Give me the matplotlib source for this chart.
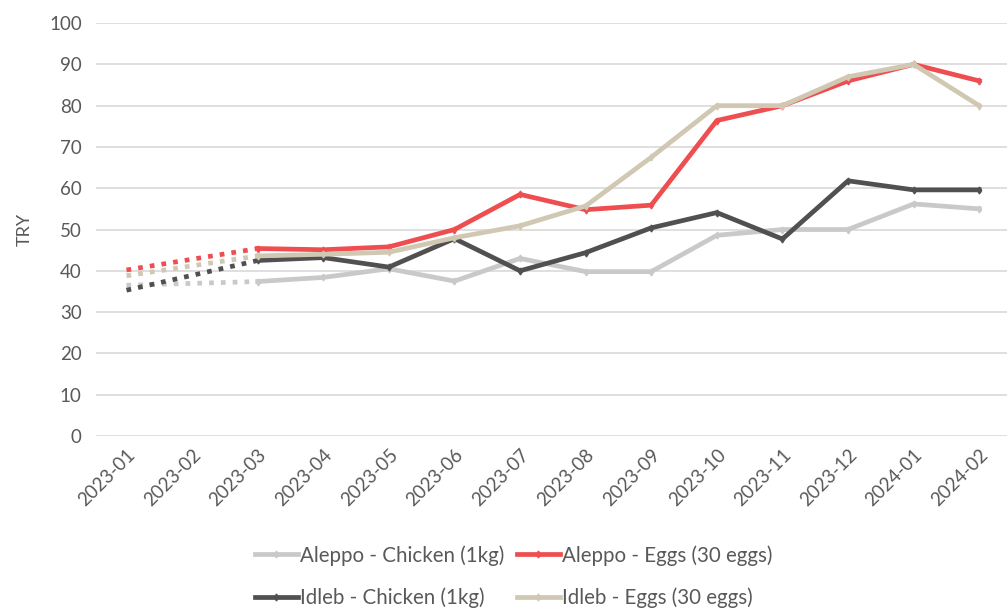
import numpy as np
import matplotlib
matplotlib.use("Agg")
import matplotlib.pyplot as plt

months = ["2023-01", "2023-02", "2023-03", "2023-04", "2023-05", "2023-06", "2023-07",
          "2023-08", "2023-09", "2023-10", "2023-11", "2023-12", "2024-01", "2024-02"]

# 2023-02 has no data (None) - bridged with a dotted line
aleppo_chicken = [36.5, None, 37.4, 38.4, 40.5, 37.5, 43.0, 39.8, 39.8, 48.6, 50.0, 50.0, 56.2, 55.0]
aleppo_eggs = [40.2, None, 45.4, 45.1, 45.8, 50.0, 58.5, 54.8, 55.9, 76.4, 80.0, 86.0, 90.0, 86.0]
idleb_chicken = [35.3, None, 42.5, 43.2, 40.9, 47.8, 40.0, 44.4, 50.4, 54.1, 47.7, 61.8, 59.6, 59.6]
idleb_eggs = [38.8, None, 43.6, 44.0, 44.5, 48.0, 50.9, 55.7, 67.5, 80.0, 80.0, 87.0, 90.0, 80.0]

series = [
    ("Aleppo - Chicken (1kg)", aleppo_chicken, "#C9C9C9"),
    ("Aleppo - Eggs (30 eggs)", aleppo_eggs, "#EE4E50"),
    ("Idleb - Chicken (1kg)", idleb_chicken, "#505050"),
    ("Idleb - Eggs (30 eggs)", idleb_eggs, "#D1C8B3"),
]

plt.rcParams["font.family"] = ["Lato", "DejaVu Sans"]
text_col = "#595959"

fig = plt.figure(figsize=(10.07, 6.08), dpi=100)
ax = fig.add_axes([0.095, 0.283, 0.91, 0.679])

x = np.arange(len(months))
handles = []
for label, vals, col in series:
    y = np.array([np.nan if v is None else v for v in vals], dtype=float)
    # dotted bridge over the missing month
    ax.plot([x[0], x[2]], [y[0], y[2]], color=col, lw=3.4,
            linestyle=(0, (1, 1.5)), dash_capstyle="butt", zorder=3)
    h, = ax.plot(x[2:], y[2:], color=col, lw=3.4, marker="d", ms=3.5,
                 solid_joinstyle="round", label=label, zorder=3)
    handles.append(h)

ax.set_xlim(-0.47, 13.5)
ax.set_ylim(0, 100)
ax.set_yticks(np.arange(0, 101, 10))
ax.set_xticks(x)
ax.set_xticklabels(months, rotation=45, ha="right", rotation_mode="anchor")
ax.grid(axis="y", color="#D9D9D9", lw=1.2)
ax.set_axisbelow(True)
for s in ax.spines.values():
    s.set_visible(False)
ax.tick_params(axis="both", length=0, colors=text_col, labelsize=13.5)
ax.tick_params(axis="y", pad=10)
ax.tick_params(axis="x", pad=7)
ax.set_ylabel("TRY", color=text_col, fontsize=13, labelpad=12)

# legend fills column-wise, so reorder to get Aleppo on row 1, Idleb on row 2
order = [0, 2, 1, 3]
leg = fig.legend([handles[i] for i in order], [series[i][0] for i in order],
                 loc="lower center", bbox_to_anchor=(0.51, -0.03), ncol=2, frameon=False,
                 fontsize=14.8, handlelength=2.1, handletextpad=0.1, columnspacing=0.6,
                 labelspacing=1.05)
for t in leg.get_texts():
    t.set_color(text_col)

fig.savefig("out.png", dpi=100)
